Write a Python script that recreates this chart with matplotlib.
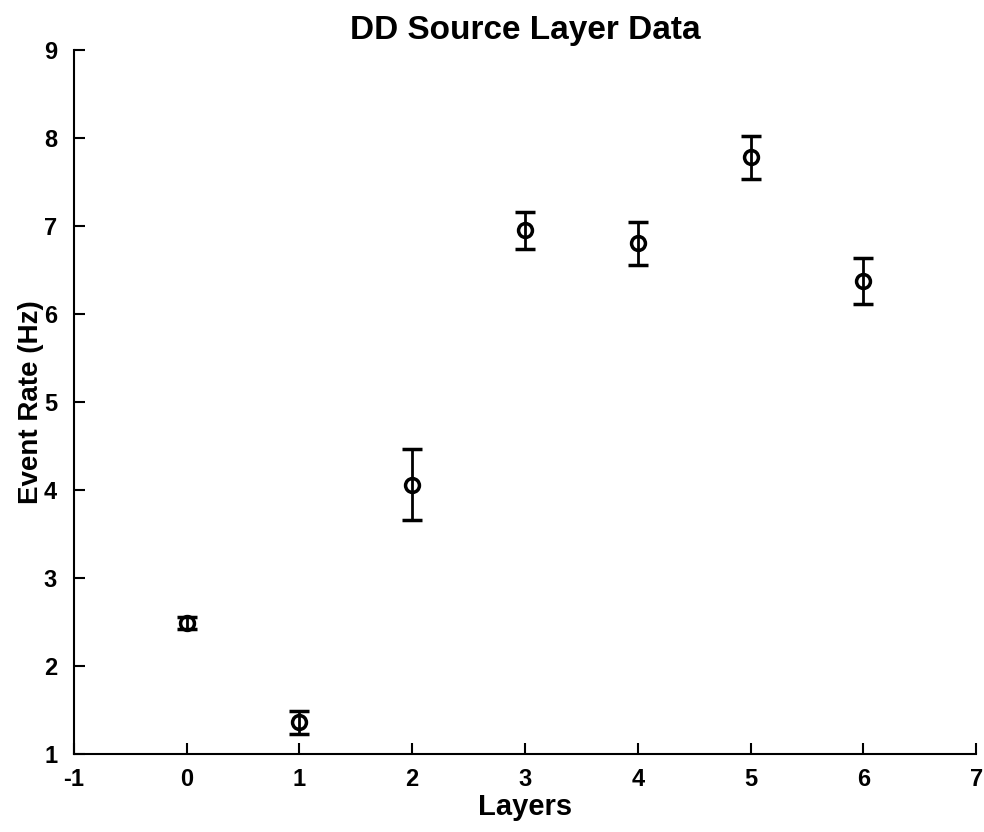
import matplotlib
matplotlib.use("Agg")
from matplotlib import pyplot as plt

layers = [0, 1, 2, 3, 4, 5, 6]
event_rate = [2.49, 1.36, 4.06, 6.95, 6.80, 7.78, 6.37]
rate_err = [0.07, 0.13, 0.40, 0.21, 0.245, 0.245, 0.26]

plt.rcParams['font.family'] = ['Liberation Sans', 'DejaVu Sans']
plt.rcParams['font.weight'] = 'bold'
plt.rcParams['axes.unicode_minus'] = False

fig = plt.figure(figsize=(9.84, 8.32), dpi=100)
ax = fig.add_axes([0.075, 0.094, 0.917, 0.846])

ax.errorbar(layers, event_rate, yerr=rate_err, fmt='o', color='black',
            markerfacecolor='none', markersize=10, markeredgewidth=2.5,
            elinewidth=2, capsize=7, capthick=2)

ax.set_xlim(-1, 7)
ax.set_ylim(1, 9)
ax.set_xticks(range(-1, 8))
ax.set_yticks(range(1, 10))
ax.spines['top'].set_visible(False)
ax.spines['right'].set_visible(False)
for s in ['left', 'bottom']:
    ax.spines[s].set_linewidth(1.5)
ax.tick_params(direction='in', length=8, width=1.5, labelsize=17)
ax.tick_params(axis='x', pad=10)
ax.tick_params(axis='y', pad=12)
for lab in ax.get_xticklabels() + ax.get_yticklabels():
    lab.set_fontweight('bold')

ax.set_xlabel('Layers', fontsize=21, fontweight='bold', labelpad=2)
ax.set_ylabel('Event Rate (Hz)', fontsize=20, fontweight='bold', labelpad=0)
ax.set_title('DD Source Layer Data', fontsize=24, fontweight='bold', pad=8)

plt.savefig('out.png', dpi=100)
